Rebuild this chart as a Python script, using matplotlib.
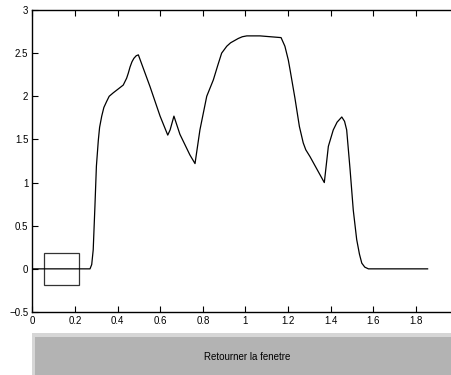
import matplotlib
matplotlib.use("Agg")
import matplotlib.pyplot as plt
from matplotlib.patches import Rectangle
import numpy as np

# curve (time, value)
t = [0.0, 0.27, 0.278, 0.285, 0.293, 0.30, 0.309, 0.315, 0.325, 0.335, 0.348,
     0.36, 0.379, 0.40, 0.426, 0.442, 0.45, 0.458, 0.467, 0.476, 0.487, 0.497,
     0.552, 0.599, 0.635, 0.646, 0.664, 0.692, 0.739,
     0.763, 0.786, 0.818, 0.849, 0.87, 0.888, 0.912, 0.93, 0.966, 0.985, 1.006,
     1.068, 1.167, 1.185, 1.201, 1.209, 1.232, 1.253, 1.271, 1.283, 1.303,
     1.370, 1.389, 1.412, 1.43, 1.452, 1.465, 1.475, 1.491, 1.506, 1.522,
     1.535, 1.546, 1.56, 1.577, 1.855]
v = [0.0, 0.0, 0.05, 0.22, 0.72, 1.19, 1.49, 1.64, 1.77, 1.87, 1.94,
     2.0, 2.04, 2.08, 2.13, 2.21, 2.27, 2.34, 2.40, 2.44, 2.47, 2.48,
     2.11, 1.77, 1.55, 1.61, 1.77, 1.56, 1.32,
     1.22, 1.61, 2.0, 2.19, 2.36, 2.50, 2.58, 2.62, 2.67, 2.69, 2.70,
     2.70, 2.68, 2.58, 2.42, 2.31, 1.98, 1.65, 1.46, 1.38, 1.30,
     1.0, 1.42, 1.61, 1.70, 1.76, 1.71, 1.61, 1.15, 0.68, 0.34,
     0.17, 0.066, 0.02, 0.0, 0.0]

# zoom box
box_x = [0.053, 0.217]
box_y = [-0.185, 0.18]

xticks = [0, 0.2, 0.4, 0.6, 0.8, 1, 1.2, 1.4, 1.6, 1.8]
xtick_labels = ["0", "0.2", "0.4", "0.6", "0.8", "1", "1.2", "1.4", "1.6", "1.8"]
yticks = [-0.5, 0, 0.5, 1, 1.5, 2, 2.5, 3]
ytick_labels = ["\u22120.5", "0", "0.5", "1", "1.5", "2", "2.5", "3"]

W, H = 452, 375
fig = plt.figure(figsize=(W / 100, H / 100), dpi=100)
fig.patch.set_facecolor("white")
plt.rcParams['font.family'] = ['Liberation Sans', 'DejaVu Sans']

ax = fig.add_axes([32.5 / W, (H - 312) / H, 426 / W, 302 / H])
ax.plot(t, v, color="black", lw=0.9)
ax.add_patch(Rectangle((box_x[0], box_y[0]), box_x[1] - box_x[0], box_y[1] - box_y[0],
                       fill=False, edgecolor="#333333", lw=0.9))
ax.set_xlim(0, 2)
ax.set_ylim(-0.5, 3)
ax.set_xticks(xticks)
ax.set_xticklabels(xtick_labels)
ax.set_yticks(yticks)
ax.set_yticklabels(ytick_labels)
ax.tick_params(direction="in", length=4, width=0.8, labelsize=7, top=True, right=True, pad=3)
for s in ax.spines.values():
    s.set_linewidth(1.0)

# button at the bottom
fig.patches.append(Rectangle((31.7 / W, 0), 1, (H - 333.3) / H, transform=fig.transFigure,
                             facecolor="#d6d6d6", edgecolor="none", zorder=0))
fig.patches.append(Rectangle((35.0 / W, 0), 1, (H - 336.7) / H, transform=fig.transFigure,
                             facecolor="#b3b3b3", edgecolor="none", zorder=1))
fig.text(247 / W, 1 - 357 / H, "Retourner la fenetre", ha="center", va="center", fontsize=7)

fig.savefig("out.png", dpi=100)
